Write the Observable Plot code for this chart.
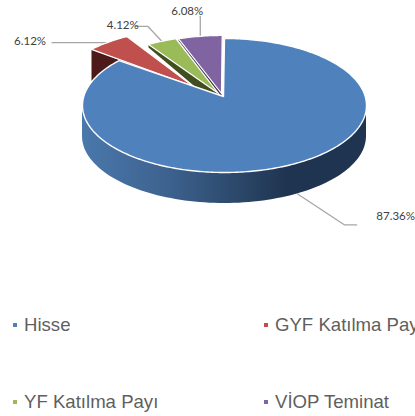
<!DOCTYPE html>
<html><head><meta charset="utf-8">
<script src="https://cdn.jsdelivr.net/npm/d3@7"></script>
<script src="https://cdn.jsdelivr.net/npm/@observablehq/plot@0.6"></script>
<style>
html,body{margin:0;padding:0;background:#fff;overflow:hidden;width:415px;height:416px}
#legend{position:relative;height:116px;font-family:"Liberation Sans",Arial,sans-serif;font-size:18.6px;color:#5f5f5f;white-space:nowrap;overflow:hidden}
#legend .it{position:absolute;line-height:20px}
#legend i{position:absolute;left:-11px;top:8px;width:4px;height:4px}
</style></head><body>
<div id="chart"></div><div id="legend"></div>
<script>
const categories = ["Hisse","GYF Katılma Payı","YF Katılma Payı","VİOP Teminat"];
const values = [87.36,6.12,4.12,6.08];
const labels = ["87.36%","6.12%","4.12%","6.08%"];
const colors = ["#4f81bd","#c0504d","#9bbb59","#8064a2"];
const wallColors = ["#2f4d71","#4d1a1a","#414f20","#3c2d52"];

// layout
const W=415,H=300,cx=224,cy=105,rx=142,ry=67,apexX=223,apexY=96,depth=31;
const degPerUnit=2.94, start=[0,313.5,330,342];
const explode=[[0,0],[-30,-10],[-5,-3],[-2,-3]];
const wallDrop=[[31,31],[31,31],[3,13],[2,3]];
const leaderAt=[149,322,336,351];
const elbows=[[[47,31],[59,31]],[[-55,0]],[[-14,-15],[-26,-15]],[[0,-20]]];
const labelAt=[[98,22],[-77,-1],[-39,-16],[-13,-25]];

const sweep=values.map((v,i)=>i===0?312:v*degPerUnit);
const rad=d=>d*Math.PI/180;
const px=(t,i)=>cx+rx*Math.sin(rad(t))+explode[i][0];
const py=(t,i)=>cy-ry*Math.cos(rad(t))+explode[i][1];
function wedge(i){
  const ap={x:apexX+explode[i][0],y:apexY+explode[i][1]},pts=[ap];
  const n=Math.ceil(sweep[i]);
  for(let k=0;k<=n;k++){const t=start[i]+sweep[i]*k/n;pts.push({x:px(t,i),y:py(t,i)})}
  return pts;
}
function sideWall(i){
  const a={x:apexX+explode[i][0],y:apexY+explode[i][1]};
  const t=start[i],o={x:px(t,i),y:py(t,i)},[dO,dA]=wallDrop[i];
  return [o,a,{x:a.x,y:a.y+dA},{x:o.x,y:o.y+dO}];
}
const front=d3.range(90,271,2).map(t=>({x:px(t,0),y1:py(t,0),y2:py(t,0)+depth}));

const slice=i=>[
  Plot.line(sideWall(i),{x:"x",y:"y",fill:wallColors[i],stroke:"none",curve:"linear-closed"}),
  Plot.line(wedge(i),{x:"x",y:"y",fill:colors[i],stroke:"#fff",strokeWidth:1.2,curve:"linear-closed"})
];
const leaders=values.flatMap((v,i)=>{
  const t=leaderAt[i],x0=px(t,i),y0=py(t,i)+(i===0?depth:0);
  const pts=[{x:x0,y:y0},...elbows[i].map(([dx,dy])=>({x:x0+dx,y:y0+dy}))];
  return [Plot.line(pts,{x:"x",y:"y",stroke:"#a6a6a6",strokeWidth:1.3})];
});
const labelData=values.map((v,i)=>({
  t:labels[i],
  x:px(leaderAt[i],i)+labelAt[i][0],
  y:py(leaderAt[i],i)+(i===0?depth:0)+labelAt[i][1]
}));

const plot=Plot.plot({
  width:W,height:H,margin:0,
  x:{domain:[0,W],range:[0,W],axis:null},
  y:{domain:[0,H],range:[0,H],axis:null},
  style:{background:"transparent",overflow:"visible"},
  marks:[
    ()=>{const s=d3.create("svg:defs");
      const g=s.append("linearGradient").attr("id","wall").attr("gradientUnits","userSpaceOnUse")
        .attr("x1",cx-rx).attr("x2",cx+rx).attr("y1",0).attr("y2",0);
      [[0,"#4a78ab"],[0.3,"#3d628f"],[0.5,"#2f4d71"],[0.72,"#1f3450"],[1,"#1f3450"]]
        .forEach(([o,c])=>g.append("stop").attr("offset",o).attr("stop-color",c));
      return s.node();},
    ...leaders,
    ...slice(2),...slice(3),...slice(1),
    Plot.areaY(front,{x:"x",y1:"y1",y2:"y2",fill:"url(#wall)"}),
    Plot.line(wedge(0),{x:"x",y:"y",fill:colors[0],stroke:"#fff",strokeWidth:1.4,curve:"linear-closed"}),
    Plot.text(labelData,{x:"x",y:"y",text:"t",fontFamily:"Lato,'Open Sans',sans-serif",fontSize:11.5,fill:"#404040"})
  ]
});
document.getElementById("chart").append(plot);

const lx=[24,275],ly=[15,92];
const legend=document.getElementById("legend");
categories.forEach((c,i)=>{
  const d=document.createElement("div");d.className="it";
  d.style.left=lx[i%2]+"px";d.style.top=ly[i>>1]+"px";
  d.textContent=c;
  const m=document.createElement("i");m.style.background=colors[i];d.append(m);
  legend.append(d);
});
</script></body></html>
